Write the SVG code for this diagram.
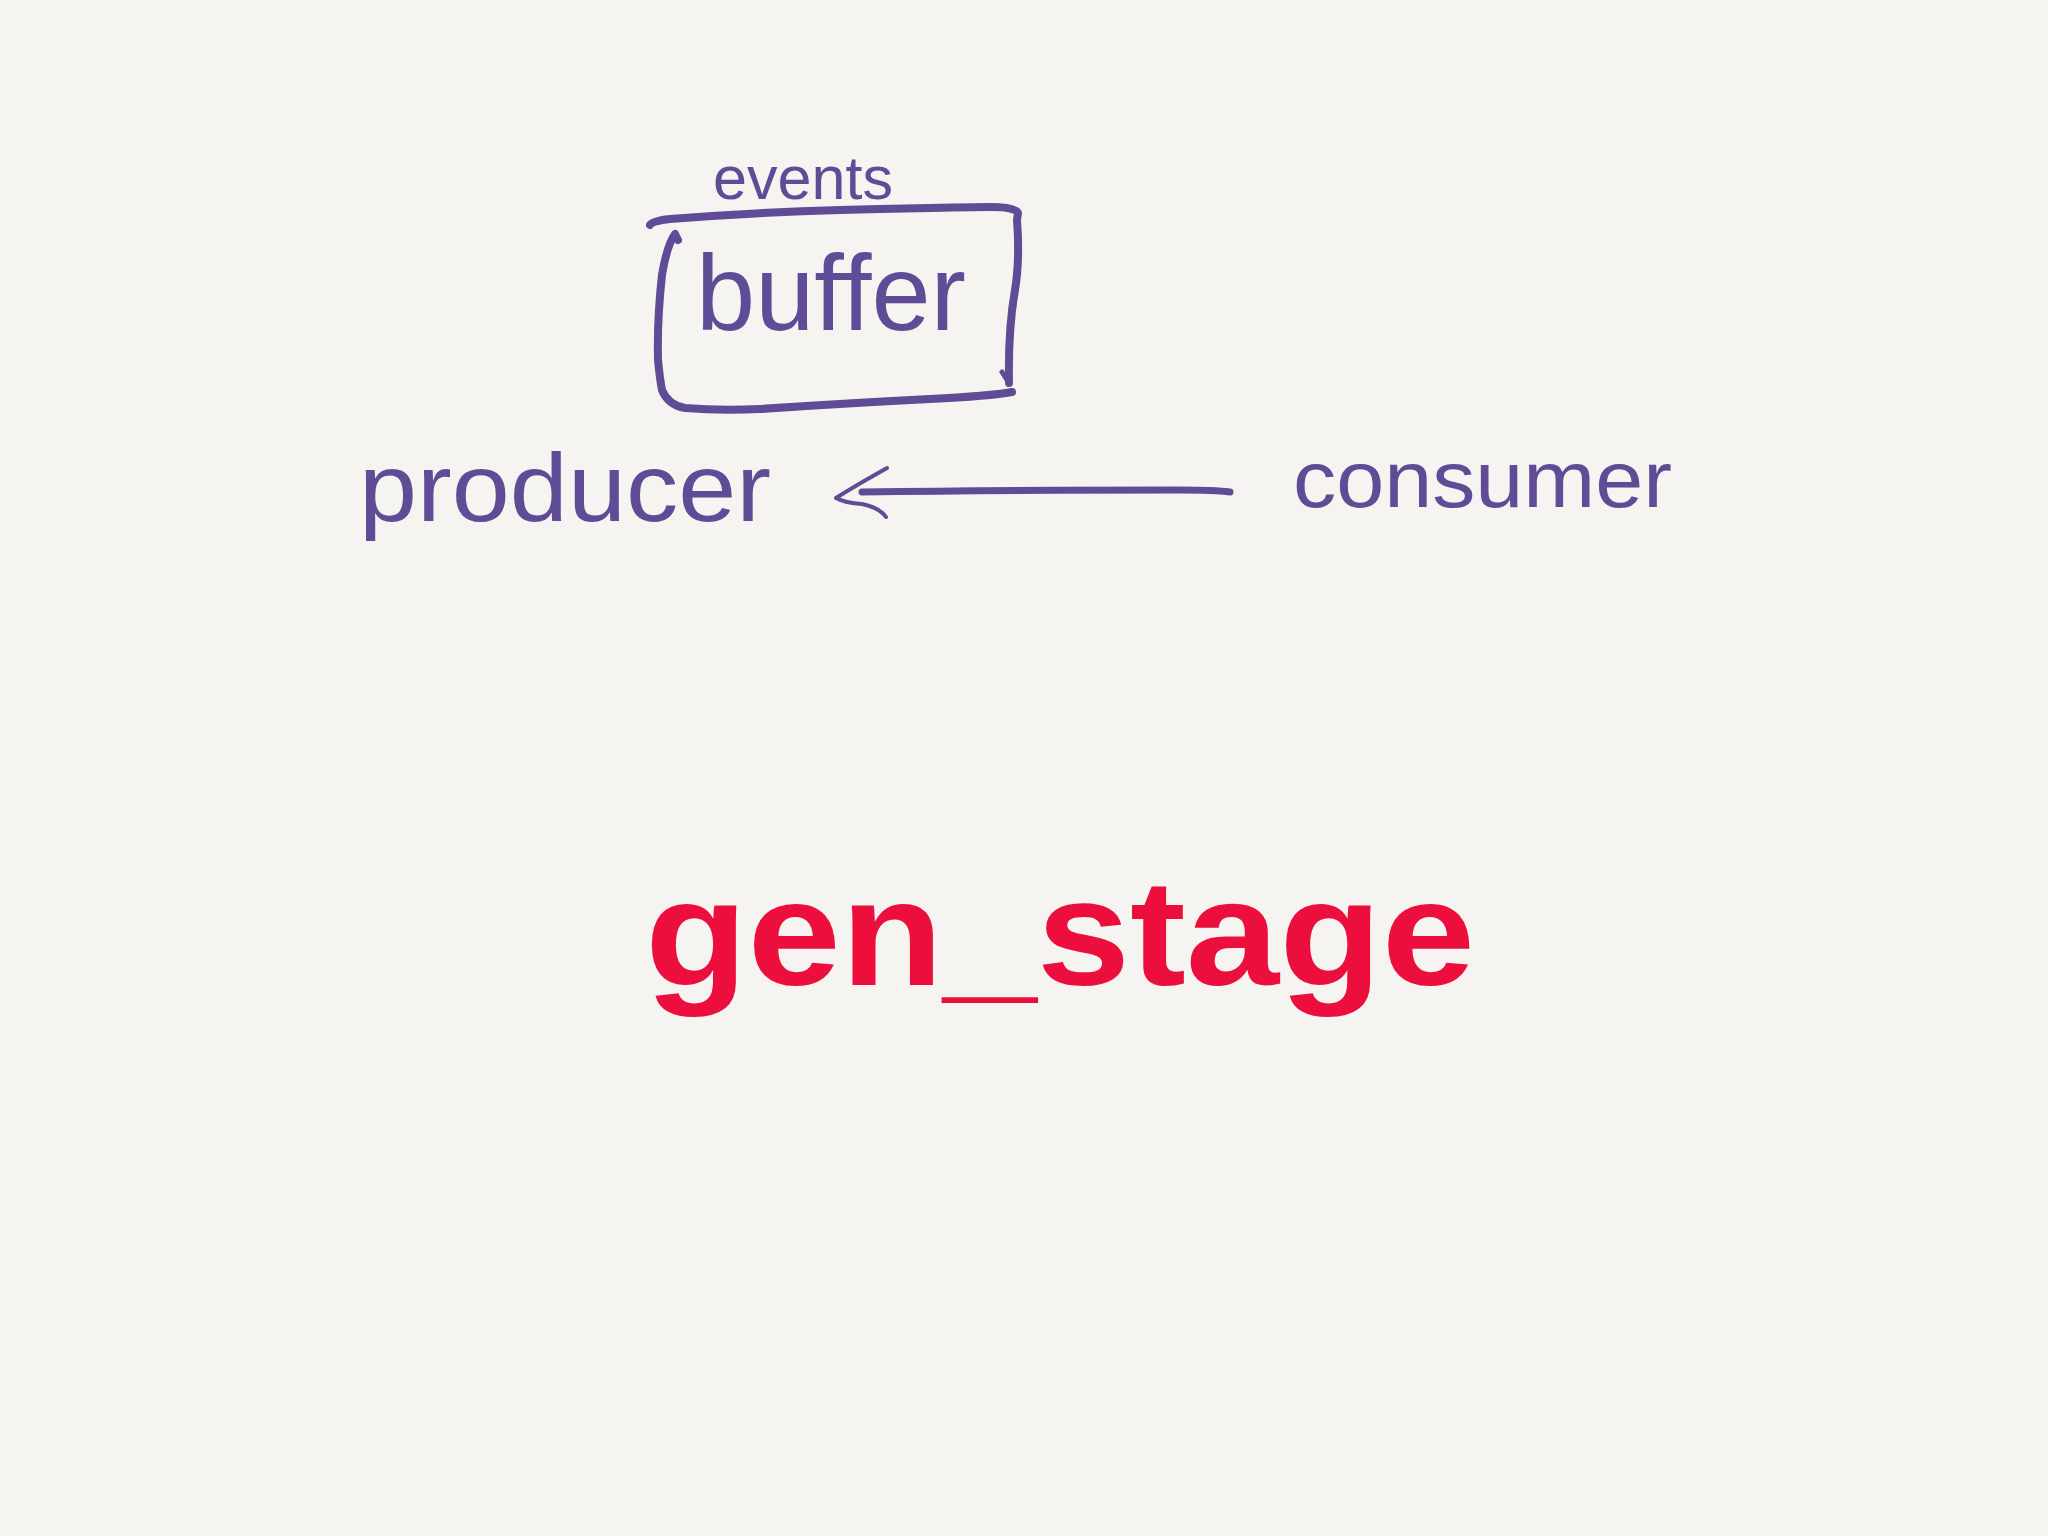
<svg xmlns="http://www.w3.org/2000/svg" width="2048" height="1536" viewBox="0 0 2048 1536">
<style>
.ink{fill:none;stroke:#5f4b96;stroke-linecap:round;stroke-linejoin:round}
.hw{fill:#5f4b96;font-family:"Liberation Sans","DejaVu Sans",sans-serif}
.title{fill:#ec0f3d;font-family:"Liberation Sans","DejaVu Sans",sans-serif;font-weight:bold}
</style>
<rect width="2048" height="1536" fill="#f5f4f0"/>
<g id="events">
<text class="hw" x="713" y="199" font-size="62" textLength="180" lengthAdjust="spacingAndGlyphs">events</text>
</g>
<g id="buffer">
<path class="ink" stroke-width="8" d="M650,225 Q652,221 670,219 Q760,212 840,210 Q920,208 990,207 Q1016,207 1018,213 L1017,220 Q1020,260 1015,290 Q1008,330 1009,383"/>
<path class="ink" stroke-width="5" d="M1009,383 L1002,372"/>
<path class="ink" stroke-width="8" d="M678,240 L675,234 Q667,245 662,275 Q657,320 658,360 Q660,380 662,390 Q668,405 685,408 Q720,411 760,409 Q850,403 930,399 Q990,396 1012,392"/>
<text class="hw" x="696" y="330" font-size="108" textLength="270" lengthAdjust="spacingAndGlyphs">buffer</text>
</g>
<g id="producer">
<text class="hw" x="359" y="521" font-size="96" textLength="412" lengthAdjust="spacingAndGlyphs">producer</text>
</g>
<g id="consumer">
<text class="hw" x="1293" y="507" font-size="80" textLength="379" lengthAdjust="spacingAndGlyphs">consumer</text>
</g>
<g id="connectors">
<path class="ink" stroke-width="7" d="M1230,492 Q1215,490 1180,490 Q1000,490 862,492"/>
<path class="ink" stroke-width="4" d="M887,468 L880,472 Q855,486 836,498 Q845,503 862,504 Q880,508 886,517"/>
</g>
<g id="gen_stage">
<text class="title" x="645" y="985" font-size="150" textLength="830" lengthAdjust="spacingAndGlyphs">gen_stage</text>
</g>
</svg>
